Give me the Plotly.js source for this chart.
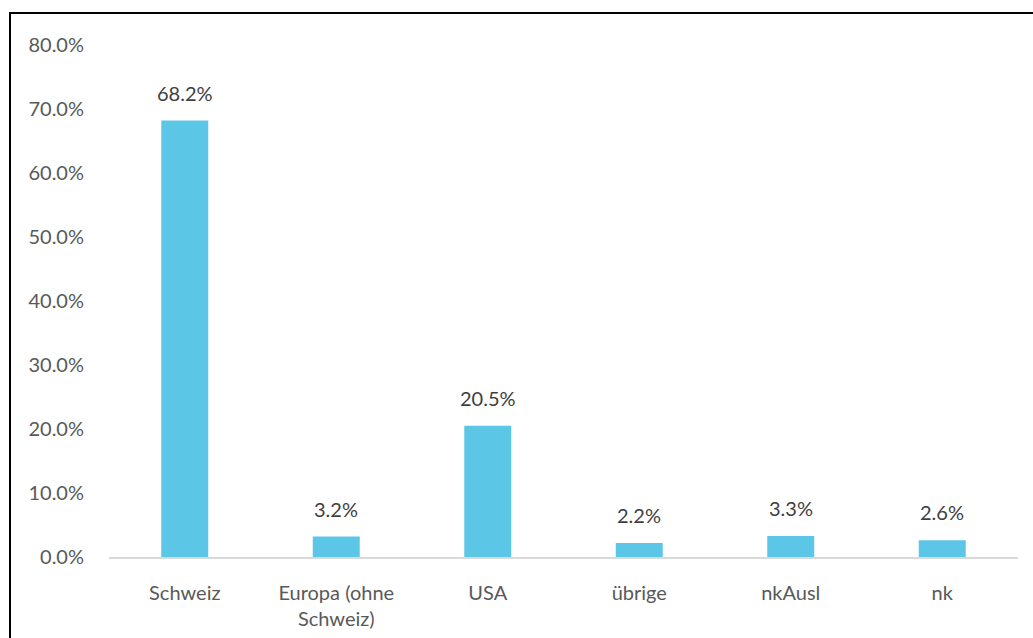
<!DOCTYPE html>
<html>
<head>
<meta charset="utf-8">
<script src="https://cdn.plot.ly/plotly-3.0.1.min.js"></script>
<style>
html,body{margin:0;padding:0;background:#fff;overflow:hidden;}
#chart{position:absolute;left:0;top:0;width:1033px;height:638px;}
#frame{position:absolute;left:9px;top:12px;width:1100px;height:700px;border:2px solid #000;pointer-events:none;}
</style>
</head>
<body>
<div id="chart"></div>
<div id="frame"></div>
<script>
const categories = ["Schweiz", "Europa (ohne<br>Schweiz)", "USA", "übrige", "nkAusl", "nk"];
const shares = [68.2, 3.2, 20.5, 2.2, 3.3, 2.6];
const yTickVals = [0, 10, 20, 30, 40, 50, 60, 70, 80];
const yTickText = ["0.0%", "10.0%", "20.0%", "30.0%", "40.0%", "50.0%", "60.0%", "70.0%", "80.0%"];

const fontFam = "Lato, 'Open Sans', sans-serif";

const trace = {
  type: "bar",
  x: categories,
  y: shares,
  marker: {color: "#5BC6E6"},
  hoverinfo: "none"
};

const annotations = categories.map((c, i) => ({
  x: c, y: shares[i], xref: "x", yref: "y",
  text: shares[i].toFixed(1) + "%",
  showarrow: false, yanchor: "bottom", yshift: 14,
  font: {family: fontFam, size: 20, color: "#404040"}
}));

const layout = {
  width: 1033, height: 638,
  margin: {l: 109, r: 15, t: 45, b: 81},
  paper_bgcolor: "#fff", plot_bgcolor: "#fff",
  showlegend: false,
  bargap: 0.69,
  xaxis: {
    type: "category",
    showline: true, linecolor: "#D9D9D9", linewidth: 2,
    showgrid: false, zeroline: false, ticks: "",
    ticklabelstandoff: 17,
    tickfont: {family: fontFam, size: 20, color: "#595959"}
  },
  yaxis: {
    range: [0, 80],
    tickvals: yTickVals, ticktext: yTickText,
    showgrid: false, zeroline: false, showline: false, ticks: "",
    ticklabelstandoff: 24,
    tickfont: {family: fontFam, size: 20, color: "#595959"}
  },
  annotations: annotations
};

Plotly.newPlot("chart", [trace], layout, {staticPlot: true, displayModeBar: false});
</script>
</body>
</html>
